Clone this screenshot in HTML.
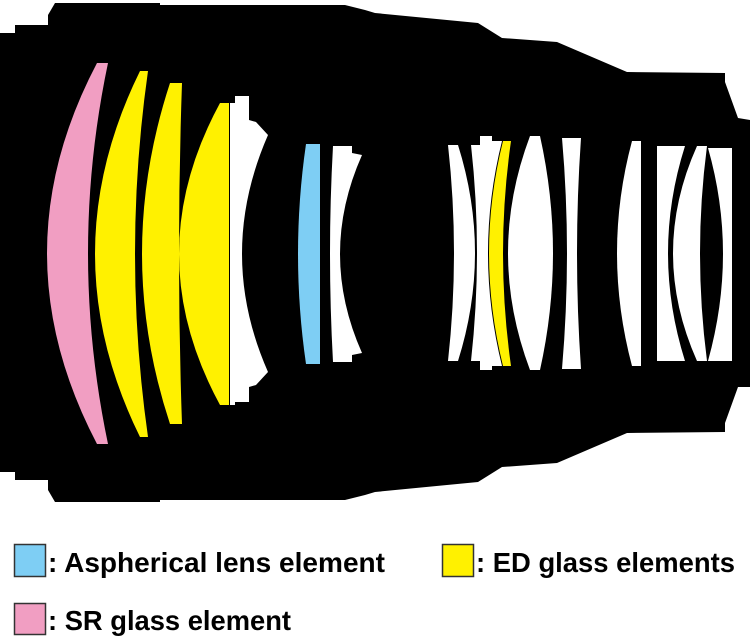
<!DOCTYPE html>
<html><head><meta charset="utf-8"><style>
html,body{margin:0;padding:0;background:#fff;width:750px;height:637px;overflow:hidden}
svg{display:block}
text{font-family:"Liberation Sans",sans-serif;font-weight:bold;font-size:28px;fill:#000}
</style></head><body>
<svg width="750" height="637" viewBox="0 0 750 637" xmlns="http://www.w3.org/2000/svg">
<path fill="#000" d="M0,33 L15,33 L15,25 L48,25 L48,15 L55,3 L160,3 L160,5 L345,5 L365,10 L375,13 L478,23 L502,38 L557,42 L627,72 L725,73 L725,82 L738,118 L750,120
L750,387 L738,387 L725,423 L725,432 L627,433 L557,463 L502,467 L478,482 L375,492 L365,495 L345,500 L160,500 L160,502 L55,502 L48,490 L48,480 L15,480 L15,472 L0,472 Z"/>
<path fill="#f19ec2" d="M97,63 L108,63 Q68,253 108,444 L97,444 Q-3,253 97,63Z"/>
<path fill="#fff100" d="M140,71 L148,71 Q122,254 148,437 L140,437 Q50,254 140,71Z"/>
<path fill="#fff100" d="M170,83 L182,83 Q176,254 182,424 L170,424 Q114,254 170,83Z"/>
<path fill="#fff100" d="M220,103 L229,103 L229,405 L220,405 Q138,254 220,103Z"/>
<path fill="#fff" d="M230,103 L235,103 L235,96 L249,96 L249,120 L256,122 L268,135 Q216,254 268,372 L256,385 L249,387 L249,402 L235,402 L235,405 L230,405Z"/>
<path fill="#7ecef4" d="M306,144 L320,144 L320,364 L306,364 Q290,254 306,144Z"/>
<path fill="#fff" d="M333,146 L352,146 L352,153 L362,155 Q318,254 362,353 L352,355 L352,362 L333,362 Q327,254 333,146Z"/>
<path fill="#fff" d="M448,145 L458,145 Q492,253 458,361 L448,361 Q460,253 448,145Z"/>
<path fill="#fff" d="M471,145 L480,145 L480,136 L492,136 L492,141 L502,141 Q474,253 502,366 L492,366 L492,370 L480,370 L480,361 L471,361 Q483,253 471,145Z"/>
<path fill="#fff100" d="M503,141 L511,141 Q495,253 511,366 L503,366 Q475,253 503,141Z"/>
<path fill="#fff" d="M530,136 L540,136 Q566,253 540,370 L530,370 Q486,253 530,136Z"/>
<path fill="#fff" d="M562,138 L581,138 Q573,253 581,369 L562,369 Q572,253 562,138Z"/>
<path fill="#fff" d="M632,141 L641,141 L641,366 L632,366 Q602,253 632,141Z"/>
<path fill="#fff" d="M657,146 L685,146 Q651,253 685,361 L657,361Z"/>
<path fill="#fff" d="M697,146 L707,146 Q693,253 707,361 L697,361 Q649,253 697,146Z"/>
<path fill="#fff" d="M708,148 L732,148 L732,361 L708,361 Q738,253 708,148Z"/>
<rect x="14.5" y="544.5" width="31" height="32" fill="#7ecef4" stroke="#333" stroke-width="1.5"/>
<text x="48" y="572" textLength="337" lengthAdjust="spacingAndGlyphs">: Aspherical lens element</text>
<rect x="442.5" y="544.5" width="31" height="32" fill="#fff100" stroke="#333" stroke-width="1.5"/>
<text x="476" y="572" textLength="259" lengthAdjust="spacingAndGlyphs">: ED glass elements</text>
<rect x="14.5" y="603.5" width="31" height="31" fill="#f19ec2" stroke="#333" stroke-width="1.5"/>
<text x="48" y="630" textLength="243" lengthAdjust="spacingAndGlyphs">: SR glass element</text>
</svg>
</body></html>
